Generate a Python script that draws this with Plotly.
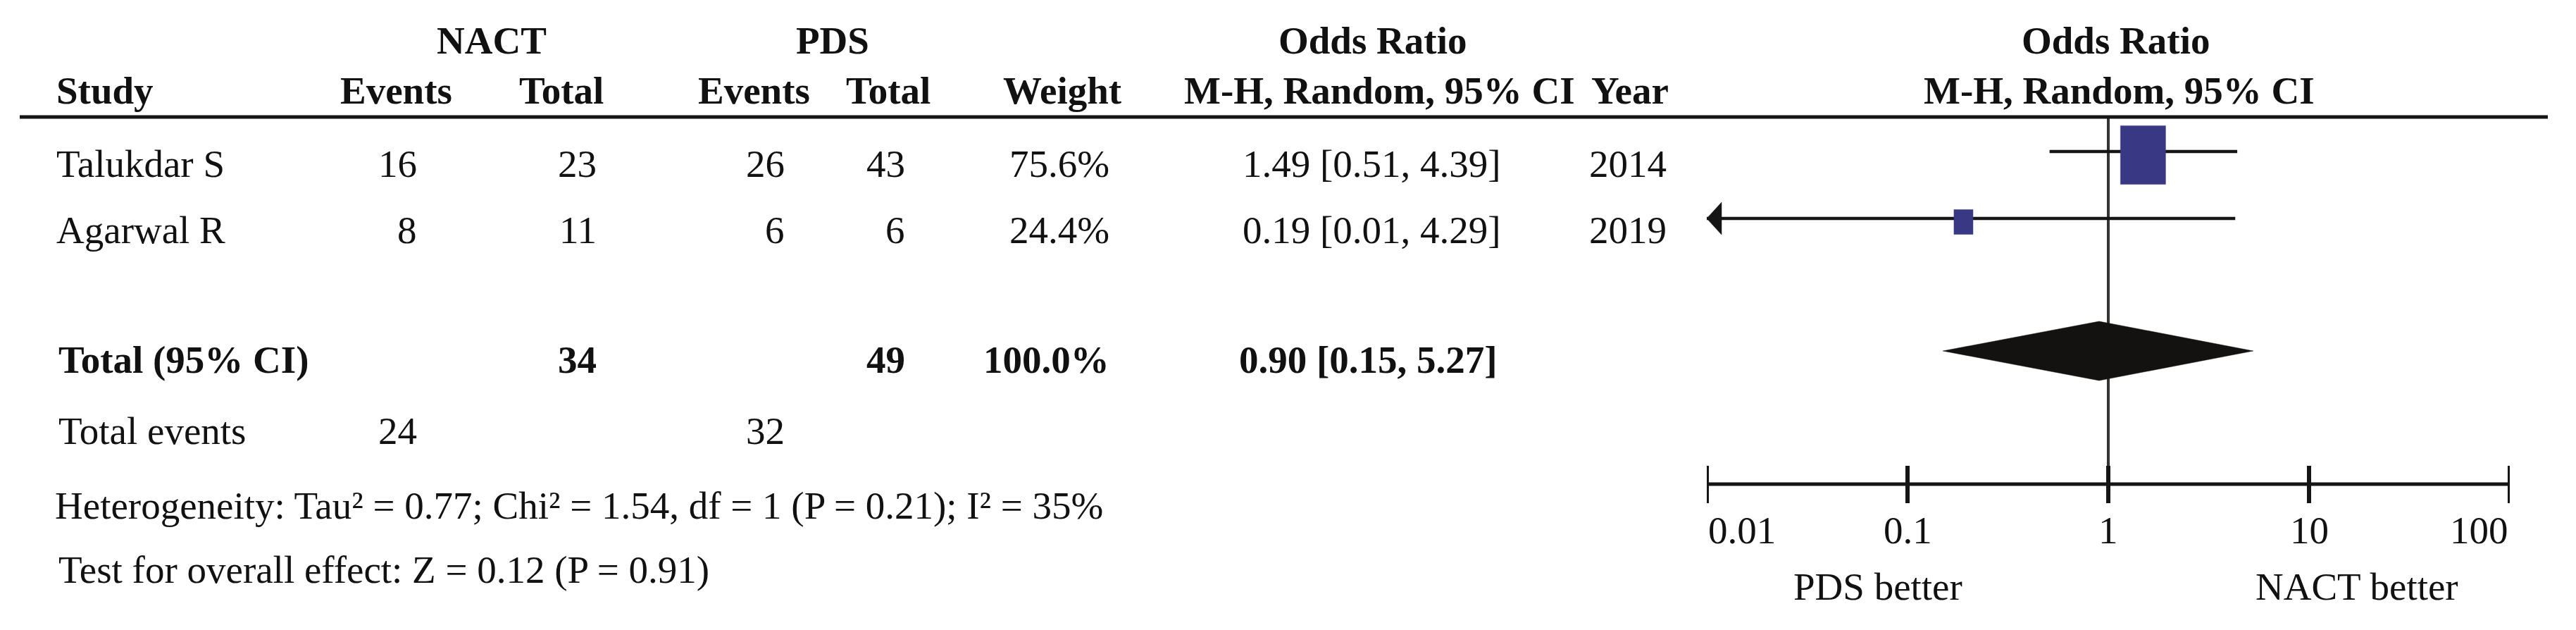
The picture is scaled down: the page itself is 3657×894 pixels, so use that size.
import math
import plotly.graph_objects as go

W, H = 3657, 894

# ---------------- data ----------------
studies = ["Talukdar S", "Agarwal R"]
nact_events = [16, 8]
nact_total = [23, 11]
pds_events = [26, 6]
pds_total = [43, 6]
weights = [75.6, 24.4]
or_est = [1.49, 0.19]
ci_low = [0.51, 0.01]
ci_high = [4.39, 4.29]
years = [2014, 2019]

total_nact = 34
total_pds = 49
total_weight = 100.0
pooled_or = 0.90
pooled_low = 0.15
pooled_high = 5.27
total_events_nact = 24
total_events_pds = 32

heterogeneity_text = "Heterogeneity: Tau² = 0.77; Chi² = 1.54, df = 1 (P = 0.21); I² = 35%"
overall_text = "Test for overall effect: Z = 0.12 (P = 0.91)"

tick_vals = [0.01, 0.1, 1, 10, 100]
tick_text = ["0.01", "0.1", "1", "10", "100"]
favours_left = "PDS better"
favours_right = "NACT better"

# ---------------- layout constants (pixels) ----------------
FONT = "Liberation Serif, Times New Roman, serif"
FS = 55
TXT = "#111111"
BOX_COLOR = "#393884"
AX_LEFT, AX_RIGHT = 2423, 3563          # pixel span of 0.01 .. 100
DECADE = (AX_RIGHT - AX_LEFT) / 4.0
HEADER_LINE_Y = 166
LINE_Y = [215, 310]                      # CI line rows
TEXT_Y = [232, 326]                      # table text rows
BOX_DY = 5
TOTAL_LINE_Y = 498
TOTAL_TEXT_Y = 510
DIAMOND_HALF = 42
AXIS_Y = 687
TICK_TOP, TICK_BOT = 661, 714
TICKLABEL_Y = 752
FAV_Y = 832
ROW1_Y = 57
ROW2_Y = 128
EVENTS_Y = 611
HET_Y = 717
TEST_Y = 808

fig = go.Figure()

def line_trace(xs, ys, width, color="#151515"):
    fig.add_trace(go.Scatter(x=xs, y=ys, mode="lines",
                             line=dict(color=color, width=width),
                             hoverinfo="skip", showlegend=False))

def poly_trace(xs, ys, color):
    fig.add_trace(go.Scatter(x=xs + [xs[0]], y=ys + [ys[0]], mode="lines",
                             fill="toself", fillcolor=color,
                             line=dict(color=color, width=0.5),
                             hoverinfo="skip", showlegend=False))

xmin, xmax = tick_vals[0], tick_vals[-1]

# null line
line_trace([1, 1], [HEADER_LINE_Y, TICK_BOT], 4, "#333333")

# study CIs, arrows, boxes
for i in range(len(studies)):
    y = LINE_Y[i]
    lo = max(ci_low[i], xmin)
    hi = min(ci_high[i], xmax)
    line_trace([lo, hi], [y, y], 4.5)
    if ci_low[i] <= xmin:
        head = 10 ** (21 / DECADE)
        poly_trace([xmin, xmin * head, xmin * head], [y, y - 23, y + 23], "#151515")
    wpx = 9.4 + 0.7227 * weights[i]
    hpx = 1.3 * wpx
    f = 10 ** (wpx / 2 / DECADE)
    yc = y + BOX_DY
    poly_trace([or_est[i] / f, or_est[i] * f, or_est[i] * f, or_est[i] / f],
               [yc - hpx / 2, yc - hpx / 2, yc + hpx / 2, yc + hpx / 2], BOX_COLOR)

# pooled diamond
poly_trace([pooled_low, pooled_or, pooled_high, pooled_or],
           [TOTAL_LINE_Y, TOTAL_LINE_Y - DIAMOND_HALF, TOTAL_LINE_Y, TOTAL_LINE_Y + DIAMOND_HALF],
           "#141210")

# axis line and ticks
line_trace([xmin, xmax], [AXIS_Y, AXIS_Y], 5)
tx, ty = [], []
for t in tick_vals:
    tx += [t, t, None]
    ty += [TICK_TOP, TICK_BOT, None]
line_trace(tx, ty, 6)

annotations = []

def txt(x, y, s, anchor="left", bold=False, xref="paper"):
    if bold:
        s = "<b>" + s + "</b>"
    annotations.append(dict(
        x=(x / W) if xref == "paper" else x, xref=xref, y=y, yref="y",
        text=s, xanchor=anchor, yanchor="middle", showarrow=False,
        font=dict(family=FONT, size=FS, color=TXT)))

# tick labels (on the log axis)
for k, (t, lab) in enumerate(zip(tick_vals, tick_text)):
    anc = "left" if k == 0 else ("right" if k == len(tick_vals) - 1 else "center")
    txt(math.log10(t), TICKLABEL_Y, lab, anc, xref="x")

txt(2666, FAV_Y, favours_left, "center")
txt(3346, FAV_Y, favours_right, "center")

# headers
txt(698, ROW1_Y, "NACT", "center", True)
txt(1182, ROW1_Y, "PDS", "center", True)
txt(1948, ROW1_Y, "Odds Ratio", "center", True)
txt(3003, ROW1_Y, "Odds Ratio", "center", True)
txt(78, ROW2_Y, "Study", "left", True)
txt(562, ROW2_Y, "Events", "center", True)
txt(797, ROW2_Y, "Total", "center", True)
txt(1070, ROW2_Y, "Events", "center", True)
txt(1261, ROW2_Y, "Total", "center", True)
txt(1508, ROW2_Y, "Weight", "center", True)
txt(2238, ROW2_Y, "M-H, Random, 95% CI", "right", True)
txt(2371, ROW2_Y, "Year", "right", True)
txt(3008, ROW2_Y, "M-H, Random, 95% CI", "center", True)

# study rows
for i in range(len(studies)):
    y = TEXT_Y[i]
    txt(78, y, studies[i], "left")
    txt(594, y, str(nact_events[i]), "right")
    txt(849, y, str(nact_total[i]), "right")
    txt(1116, y, str(pds_events[i]), "right")
    txt(1287, y, str(pds_total[i]), "right")
    txt(1577, y, f"{weights[i]:.1f}%", "right")
    txt(2133, y, f"{or_est[i]:.2f} [{ci_low[i]:.2f}, {ci_high[i]:.2f}]", "right")
    txt(2368, y, str(years[i]), "right")

# total row
txt(81, TOTAL_TEXT_Y, "Total (95% CI)", "left", True)
txt(849, TOTAL_TEXT_Y, str(total_nact), "right", True)
txt(1287, TOTAL_TEXT_Y, str(total_pds), "right", True)
txt(1577, TOTAL_TEXT_Y, f"{total_weight:.1f}%", "right", True)
txt(2128, TOTAL_TEXT_Y, f"{pooled_or:.2f} [{pooled_low:.2f}, {pooled_high:.2f}]", "right", True)

txt(81, EVENTS_Y, "Total events", "left")
txt(594, EVENTS_Y, str(total_events_nact), "right")
txt(1116, EVENTS_Y, str(total_events_pds), "right")
txt(76, HET_Y, heterogeneity_text, "left")
txt(81, TEST_Y, overall_text, "left")

fig.update_layout(
    width=W, height=H, autosize=False,
    margin=dict(l=0, r=0, t=0, b=0, pad=0),
    paper_bgcolor="white", plot_bgcolor="white",
    showlegend=False,
    xaxis=dict(type="log", range=[math.log10(xmin), math.log10(xmax)],
               domain=[AX_LEFT / W, AX_RIGHT / W], visible=False, fixedrange=True),
    yaxis=dict(range=[H, 0], domain=[0, 1], visible=False, fixedrange=True),
    annotations=annotations,
    shapes=[dict(type="line", xref="paper", yref="y", x0=28 / W, x1=3617 / W,
                 y0=HEADER_LINE_Y, y1=HEADER_LINE_Y,
                 line=dict(color="#151515", width=5))],
)

for tr in fig.data:
    tr.cliponaxis = False

fig.write_html("out.html", config={"displayModeBar": False},
               post_script="document.body.style.margin='0';document.body.style.overflow='hidden';")
